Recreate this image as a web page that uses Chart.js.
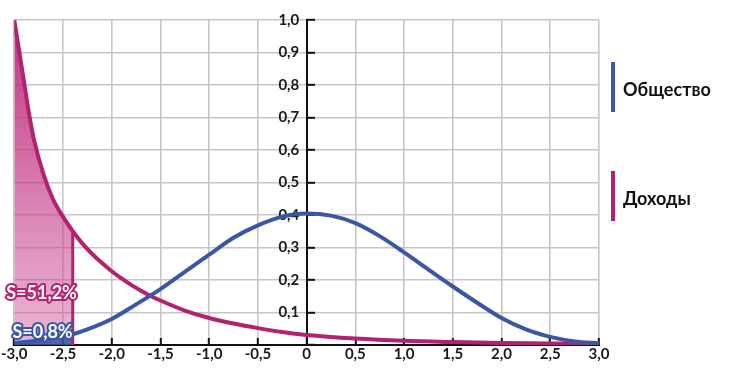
<!DOCTYPE html>
<html>
<head>
<meta charset="utf-8">
<script src="https://cdn.jsdelivr.net/npm/chart.js@4"></script>
<style>
html, body { margin: 0; padding: 0; background: #fff; }
#wrap { width: 740px; height: 369px; }
</style>
</head>
<body>
<div id="wrap"><canvas id="chart"></canvas></div>
<script>
// Доходы (magenta)
const xIncome = [-3.0, -2.95, -2.9, -2.85, -2.8, -2.7, -2.6, -2.5, -2.4, -2.3, -2.2, -2.1, -2.0, -1.9, -1.8, -1.7, -1.6, -1.5, -1.25, -1.0, -0.75, -0.5, -0.25, 0, 0.5, 1.0, 1.5, 2.0, 2.5, 3.0];
const yIncome = [1.0, 0.905, 0.81, 0.715, 0.635, 0.525, 0.447, 0.395, 0.35, 0.312, 0.28, 0.252, 0.227, 0.205, 0.185, 0.167, 0.151, 0.137, 0.106, 0.083, 0.066, 0.052, 0.04, 0.031, 0.02, 0.013, 0.009, 0.006, 0.005, 0.004];

// Общество (blue)
const xSociety = [-3.0, -2.75, -2.5, -2.4, -2.25, -2.0, -1.75, -1.5, -1.25, -1.0, -0.75, -0.5, -0.25, 0, 0.25, 0.5, 0.75, 1.0, 1.25, 1.5, 1.75, 2.0, 2.25, 2.5, 2.75, 3.0];
const ySociety = [0.006, 0.014, 0.027, 0.033, 0.048, 0.08, 0.125, 0.172, 0.225, 0.278, 0.33, 0.368, 0.395, 0.405, 0.398, 0.375, 0.335, 0.285, 0.232, 0.18, 0.13, 0.083, 0.048, 0.025, 0.011, 0.005];

const seriesNames = ['Общество', 'Доходы'];
const cutoffX = -2.4;
const areaLabels = ['S=51,2%', 'S=0,8%'];

const xTickLabels = ['-3,0', '-2,5', '-2,0', '-1,5', '-1,0', '-0,5', '0', '0,5', '1,0', '1,5', '2,0', '2,5', '3,0'];
const yTickLabels = ['', '0,1', '0,2', '0,3', '0,4', '0,5', '0,6', '0,7', '0,8', '0,9', '1,0'];

const BLUE = '#3a57a5';
const MAGENTA = '#b3216f';
const AXIS = '#111';
const GRID = '#c6c6c6';
const FONT = "Lato, 'Open Sans', sans-serif";

const toPoints = (xs, ys) => xs.map((x, i) => ({x: x, y: ys[i]}));
const incomePts = toPoints(xIncome, yIncome);
const societyPts = toPoints(xSociety, ySociety);
const incomeAtCut = yIncome[xIncome.indexOf(cutoffX)];

function magentaGradient(context) {
    const {ctx, chartArea} = context.chart;
    if (!chartArea) return 'rgba(190,40,125,0.6)';
    const g = ctx.createLinearGradient(0, chartArea.top, 0, chartArea.bottom);
    g.addColorStop(0, 'rgba(188,38,122,0.95)');
    g.addColorStop(1, 'rgba(205,80,150,0.42)');
    return g;
}

// white labels with coloured outline inside the shaded areas
const areaLabelPlugin = {
    id: 'areaLabels',
    afterDatasetsDraw(chart, args, opts) {
        const {ctx, scales} = chart;
        ctx.save();
        ctx.font = 'bold 18px ' + FONT;
        ctx.textAlign = 'center';
        ctx.textBaseline = 'middle';
        ctx.lineJoin = 'round';
        opts.items.forEach((it, i) => {
            const px = scales.x.getPixelForValue(it.x);
            const py = scales.y.getPixelForValue(it.y);
            ctx.lineWidth = 4;
            ctx.strokeStyle = it.color;
            ctx.strokeText(areaLabels[i], px, py);
            ctx.fillStyle = '#fff';
            ctx.fillText(areaLabels[i], px, py);
        });
        ctx.restore();
    }
};

// legend on the right: vertical colour bar + name
const sideLegendPlugin = {
    id: 'sideLegend',
    afterDraw(chart, args, opts) {
        const {ctx} = chart;
        ctx.save();
        ctx.font = 'bold 18px ' + FONT;
        ctx.textBaseline = 'middle';
        opts.centers.forEach((cy, i) => {
            const ds = chart.data.datasets[i];
            ctx.fillStyle = ds.borderColor;
            ctx.fillRect(opts.x - 2, cy - opts.barHeight / 2, 4, opts.barHeight);
            ctx.fillStyle = AXIS;
            ctx.fillText(ds.label, opts.x + 10, cy + 3);
        });
        ctx.restore();
    }
};

const tickFont = {family: FONT, size: 15, weight: 'bold'};

new Chart(document.getElementById('chart'), {
    type: 'scatter',
    data: {
        datasets: [
            {
                label: seriesNames[0],
                data: societyPts,
                showLine: true,
                borderColor: BLUE,
                borderWidth: 4,
                pointRadius: 0,
                cubicInterpolationMode: 'monotone',
                order: 0
            },
            {
                label: seriesNames[1],
                data: incomePts,
                showLine: true,
                borderColor: MAGENTA,
                borderWidth: 4,
                pointRadius: 0,
                cubicInterpolationMode: 'monotone',
                order: 1
            },
            {
                label: 'cut',
                data: [{x: cutoffX, y: 0}, {x: cutoffX, y: incomeAtCut}],
                showLine: true,
                borderColor: MAGENTA,
                borderWidth: 3,
                pointRadius: 0,
                order: 2
            },
            {
                label: 'societyArea',
                data: societyPts.filter(p => p.x <= cutoffX),
                showLine: true,
                fill: 'origin',
                backgroundColor: 'rgba(48,78,160,0.8)',
                borderWidth: 0,
                pointRadius: 0,
                cubicInterpolationMode: 'monotone',
                order: 3
            },
            {
                label: 'incomeArea',
                data: incomePts.filter(p => p.x <= cutoffX),
                showLine: true,
                fill: 'origin',
                backgroundColor: magentaGradient,
                borderWidth: 0,
                pointRadius: 0,
                cubicInterpolationMode: 'monotone',
                order: 4
            }
        ]
    },
    options: {
        responsive: true,
        maintainAspectRatio: false,
        animation: false,
        devicePixelRatio: 1,
        layout: {
            padding: {top: 20, right: 141, bottom: 0, left: 0}
        },
        scales: {
            x: {
                type: 'linear',
                min: -3,
                max: 3,
                afterFit: function(scale) {
                    scale.height = 24;
                },
                ticks: {
                    stepSize: 0.5,
                    autoSkip: false,
                    maxRotation: 0,
                    padding: 1,
                    color: '#1a1a1a',
                    font: {family: FONT, size: 15, weight: 'bold', lineHeight: 2},
                    callback: function(val, index) {
                        return xTickLabels[index];
                    }
                },
                grid: {
                    color: GRID,
                    lineWidth: 1.6,
                    tickLength: -7,
                    tickColor: AXIS,
                    tickWidth: 2
                },
                border: {color: AXIS, width: 2}
            },
            // the vertical axis line and its inward tick marks
            y: {
                type: 'linear',
                min: 0,
                max: 1,
                position: {x: 0},
                ticks: {
                    stepSize: 0.1,
                    display: false
                },
                grid: {
                    color: GRID,
                    lineWidth: 1.6,
                    tickLength: -9,
                    tickColor: AXIS,
                    tickWidth: 2
                },
                border: {color: AXIS, width: 2}
            },
            // the labels of the vertical axis, just left of it
            yLabels: {
                type: 'linear',
                axis: 'y',
                min: 0,
                max: 1,
                position: {x: -0.075},
                ticks: {
                    stepSize: 0.1,
                    color: '#1a1a1a',
                    font: tickFont,
                    callback: function(val, index) {
                        return yTickLabels[index];
                    }
                },
                grid: {display: false},
                border: {display: false}
            }
        },
        plugins: {
            legend: {display: false},
            tooltip: {enabled: false},
            areaLabels: {
                items: [
                    {x: -2.72, y: 0.16, color: MAGENTA},
                    {x: -2.71, y: 0.04, color: BLUE}
                ]
            },
            sideLegend: {
                x: 613,
                centers: [87, 196],
                barHeight: 50
            }
        }
    },
    plugins: [areaLabelPlugin, sideLegendPlugin]
});
</script>
</body>
</html>
